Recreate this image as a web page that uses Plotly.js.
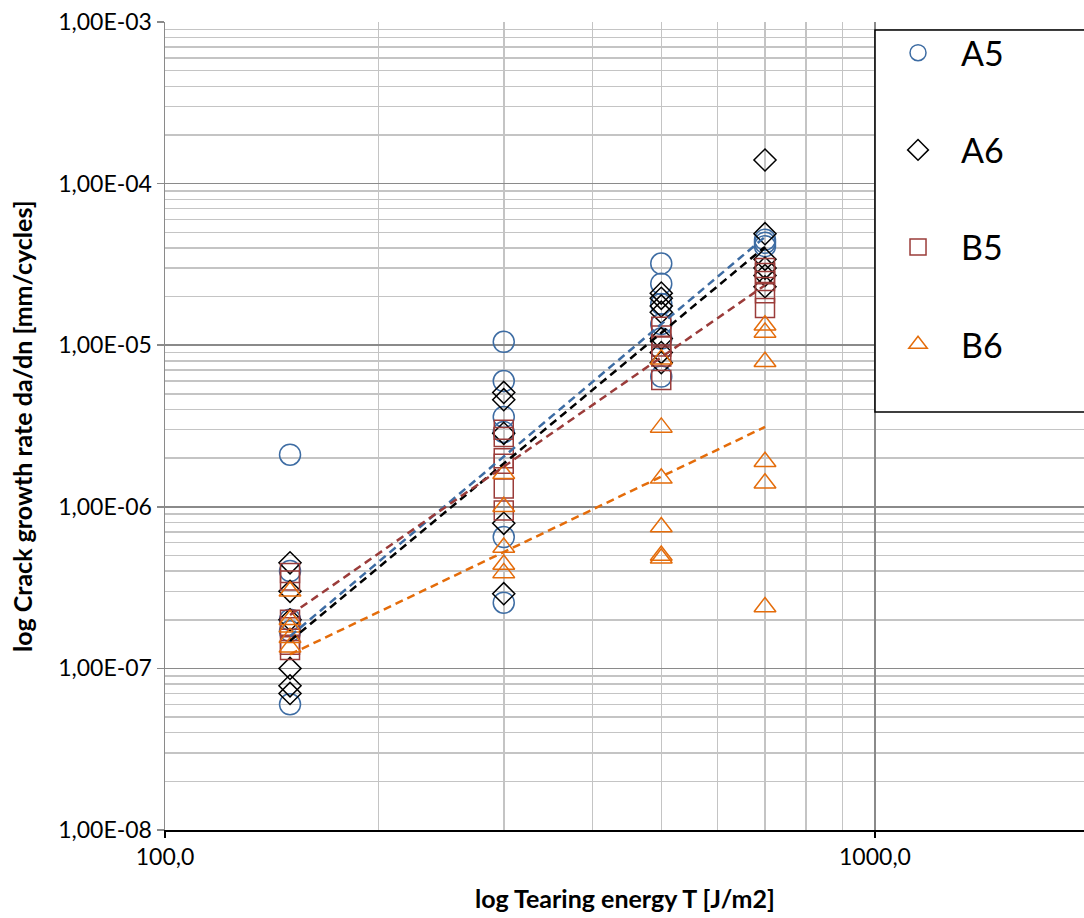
<!DOCTYPE html>
<html><head><meta charset="utf-8">
<script src="https://cdn.plot.ly/plotly-3.0.1.min.js"></script>
<style>html,body{margin:0;padding:0;background:#fff}#chart{width:1084px;height:918px}</style>
</head><body><div id="chart"></div>
<script>
// ---- data ----
const seriesNames = ['A5', 'A6', 'B5', 'B6'];

const a5X = [150,150,150,150,150, 300,300,300,300,300,300, 500,500,500,500,500,500, 700,700,700];
const a5Y = [2.1e-6,4.0e-7,2.0e-7,1.7e-7,6.0e-8, 1.05e-5,6.0e-6,3.6e-6,2.9e-6,6.5e-7,2.55e-7, 3.2e-5,2.4e-5,1.8e-5,1.35e-5,1.1e-5,6.4e-6, 4.5e-5,4.3e-5,4.1e-5];

const a6X = [150,150,150,150,150,150, 300,300,300,300,300, 500,500,500,500,500,500,500, 700,700,700,700,700,700];
const a6Y = [4.5e-7,3.0e-7,2.0e-7,1.0e-7,7.8e-8,7.0e-8, 5.1e-6,4.6e-6,2.85e-6,7.9e-7,2.9e-7, 2.1e-5,1.95e-5,1.75e-5,1.6e-5,1.1e-5,9.0e-6,7.8e-6, 1.4e-4,4.9e-5,3.4e-5,3.0e-5,2.7e-5,2.3e-5];

const b5X = [150,150,150,150,150,150, 300,300,300,300,300,300, 500,500,500,500,500, 700,700,700,700,700];
const b5Y = [3.9e-7,3.5e-7,2.0e-7,1.8e-7,1.4e-7,1.3e-7, 3.0e-6,2.7e-6,2.0e-6,1.85e-6,1.3e-6,9.5e-7, 1.3e-5,1.15e-5,9.8e-6,8.5e-6,6.1e-6, 3.0e-5,2.8e-5,2.5e-5,2.1e-5,1.7e-5];

const b6X = [150,150,150,150,150, 300,300,300,300,300, 500,500,500,500,500,500, 700,700,700,700,700,700];
const b6Y = [3.0e-7,2.0e-7,1.8e-7,1.55e-7,1.35e-7, 1.6e-6,1.0e-6,5.6e-7,4.4e-7,3.9e-7, 8.2e-6,3.1e-6,1.5e-6,7.5e-7,5.0e-7,4.8e-7, 1.33e-5,1.2e-5,7.9e-6,1.9e-6,1.4e-6,2.4e-7];

// power-law trend lines (values read at T = 150 and T = 700)
const trendX = [150, 700];
const a5Trend = [1.58e-7, 4.68e-5];
const a6Trend = [1.48e-7, 4.06e-5];
const b5Trend = [2.14e-7, 2.35e-5];
const b6Trend = [1.22e-7, 3.12e-6];

const yTickVals = [1e-8, 1e-7, 1e-6, 1e-5, 1e-4, 1e-3];
const yTickText = ['1,00E-08','1,00E-07','1,00E-06','1,00E-05','1,00E-04','1,00E-03'];
const xTickVals = [100, 1000];
const xTickText = ['100,0', '1000,0'];

// ---- styling ----
const FONT = 'Lato, "Open Sans", sans-serif';
const colBlue = '#3d6ca3', colBlack = '#000000', colBrown = '#9b3c3a', colOrange = '#e46c0a';

function minorVals(d0, d1) {
  const v = [];
  for (let d = d0; d < d1; d++) for (let k = 2; k <= 9; k++) v.push(k * Math.pow(10, d));
  return v;
}

function pts(name, x, y, symbol, color, size) {
  return {
    type: 'scatter', mode: 'markers', name: name, x: x, y: y,
    legendgroup: name,
    marker: { symbol: symbol, size: size, color: color, line: { color: color, width: 1.5 } },
    cliponaxis: false
  };
}
function trend(x, y, color) {
  return {
    type: 'scatter', mode: 'lines', x: x, y: y, showlegend: false, hoverinfo: 'skip',
    line: { color: color, width: 2.5, dash: '8px,5px' }
  };
}

const data = [
  pts(seriesNames[0], a5X, a5Y, 'circle-open', colBlue, 21),
  pts(seriesNames[1], a6X, a6Y, 'diamond-open', colBlack, 17),
  pts(seriesNames[2], b5X, b5Y, 'square-open', colBrown, 19),
  pts(seriesNames[3], b6X, b6Y, 'triangle-up-open', colOrange, 19),
  trend(trendX, a5Trend, colBlue),
  trend(trendX, a6Trend, colBlack),
  trend(trendX, b5Trend, colBrown),
  trend(trendX, b6Trend, colOrange)
];

const layout = {
  width: 1084, height: 918,
  margin: { l: 165, r: 0, t: 22, b: 88, autoexpand: false },
  paper_bgcolor: '#ffffff', plot_bgcolor: '#ffffff',
  font: { family: FONT, color: '#000', size: 23 },
  showlegend: true,
  xaxis: {
    type: 'log', range: [2, 3.2944], autorange: false,
    tickvals: xTickVals, ticktext: xTickText,
    tickfont: { family: FONT, size: 23, color: '#000' },
    showgrid: true, gridcolor: '#8a8a8a', gridwidth: 1.5,
    minor: { tickvals: minorVals(2, 4), showgrid: true, gridcolor: '#c4c4c4', gridwidth: 1.5, ticks: '' },
    showline: true, linecolor: '#000', linewidth: 1.5,
    ticks: 'outside', ticklen: 6, tickcolor: '#000', tickwidth: 1.5,
    zeroline: false, fixedrange: true
  },
  yaxis: {
    type: 'log', range: [-8, -3], autorange: false,
    tickvals: yTickVals, ticktext: yTickText,
    tickfont: { family: FONT, size: 23, color: '#000' },
    showgrid: true, gridcolor: '#8a8a8a', gridwidth: 1.5,
    minor: { tickvals: minorVals(-8, -3), showgrid: true, gridcolor: '#c4c4c4', gridwidth: 1.5, ticks: '' },
    showline: true, linecolor: '#8a8a8a', linewidth: 1.5,
    ticks: 'outside', ticklen: 7, tickcolor: '#8a8a8a', tickwidth: 1.5,
    zeroline: false, fixedrange: true
  },
  legend: {
    x: 0.7726, y: 0.9974, xanchor: 'left', yanchor: 'top',
    bgcolor: 'rgba(0,0,0,0)', borderwidth: 0,
    font: { family: FONT, size: 34, color: '#000' },
    traceorder: 'grouped', tracegroupgap: 50,
    itemwidth: 76, itemclick: false
  },
  shapes: [
    { type: 'rect', xref: 'paper', yref: 'paper', x0: 0.7726, x1: 1.05, y0: 0.5173, y1: 0.9901,
      layer: 'above', fillcolor: '#ffffff', line: { color: '#000', width: 1.5 } }
  ],
  annotations: [
    { text: '<b>log Tearing energy T [J/m2]</b>', xref: 'paper', yref: 'paper',
      x: 0.5, y: -0.0842, xanchor: 'center', yanchor: 'middle', showarrow: false,
      font: { family: FONT, size: 25, color: '#000' } },
    { text: '<b>log Crack growth rate da/dn [mm/cycles]</b>', xref: 'paper', yref: 'paper',
      x: -0.1556, y: 0.5, xanchor: 'center', yanchor: 'middle', textangle: -90, showarrow: false,
      font: { family: FONT, size: 25, color: '#000' } }
  ]
};

Plotly.newPlot('chart', data, layout, { displayModeBar: false, staticPlot: true });
</script>
</body></html>
